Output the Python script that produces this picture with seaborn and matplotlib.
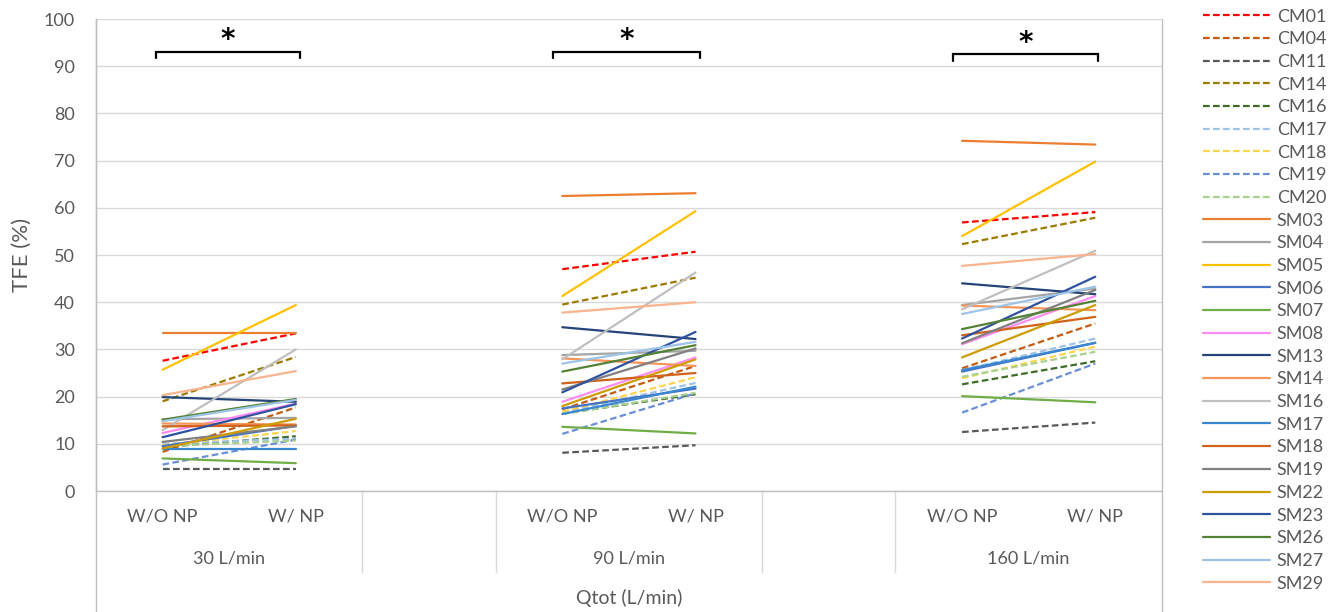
import pandas as pd
import matplotlib
matplotlib.use("Agg")
import matplotlib.pyplot as plt
from matplotlib.lines import Line2D
import seaborn as sns

# ------------------------------
# DATA (TFE %)
# ------------------------------
series = ["CM01", "CM04", "CM11", "CM14", "CM16", "CM17", "CM18", "CM19", "CM20",
          "SM03", "SM04", "SM05", "SM06", "SM07", "SM08", "SM13", "SM14", "SM16",
          "SM17", "SM18", "SM19", "SM22", "SM23", "SM26", "SM27", "SM29"]

flows = ["30 L/min", "90 L/min", "160 L/min"]
conditions = ["W/O NP", "W/ NP"]

tfe_30_wo = [27.6, 8.3, 4.6, 19.0, 9.3, 10.0, 9.7, 5.6, 9.5,
             33.4, 15.2, 25.7, 9.5, 6.9, 12.3, 19.9, 14.3, 12.9,
             8.8, 13.7, 10.4, 9.0, 11.4, 15.1, 14.8, 20.3]
tfe_30_w = [33.4, 17.7, 4.6, 28.4, 11.6, 11.1, 12.7, 10.9, 10.7,
            33.4, 15.5, 39.4, 13.8, 5.9, 18.5, 18.9, 14.1, 30.0,
            8.8, 13.9, 13.7, 15.3, 18.4, 19.5, 19.3, 25.4]
tfe_90_wo = [47.0, 17.3, 8.1, 39.5, 16.4, 16.6, 16.8, 12.1, 16.3,
             62.5, 28.8, 41.3, 17.5, 13.6, 18.9, 34.7, 28.1, 27.9,
             16.3, 22.8, 21.5, 18.0, 20.9, 25.3, 27.0, 37.8]
tfe_90_w = [50.7, 26.5, 9.7, 45.2, 20.5, 22.9, 24.1, 20.7, 20.8,
            63.1, 29.7, 59.3, 21.7, 12.2, 28.3, 32.2, 26.5, 46.3,
            22.1, 25.0, 30.2, 27.9, 33.7, 30.9, 31.6, 40.0]
tfe_160_wo = [56.9, 26.0, 12.5, 52.3, 22.6, 25.6, 23.9, 16.6, 24.2,
              74.2, 39.4, 54.0, 25.3, 20.1, 31.1, 44.0, 39.3, 38.5,
              25.6, 33.0, 31.3, 28.3, 32.3, 34.3, 37.5, 47.7]
tfe_160_w = [59.1, 35.5, 14.5, 57.9, 27.5, 32.3, 30.6, 27.0, 29.5,
             73.4, 42.9, 69.8, 31.4, 18.8, 41.3, 41.7, 38.3, 50.9,
             31.4, 36.9, 42.6, 39.4, 45.4, 40.3, 43.3, 50.2]

# ------------------------------
# STYLE
# ------------------------------
colors = {
    "CM01": "#FF0000", "CM04": "#C55A11", "CM11": "#595959", "CM14": "#9C7A00",
    "CM16": "#3F6B27", "CM17": "#9DC3E6", "CM18": "#FFD54F", "CM19": "#6A8FD8",
    "CM20": "#A9D18E", "SM03": "#ED7D31", "SM04": "#A5A5A5", "SM05": "#FFC000",
    "SM06": "#4472C4", "SM07": "#70AD47", "SM08": "#FF8CF5", "SM13": "#264478",
    "SM14": "#F4955A", "SM16": "#BFBFBF", "SM17": "#3A86D0", "SM18": "#D0621A",
    "SM19": "#808080", "SM22": "#CC9C00", "SM23": "#2F52A0", "SM26": "#548235",
    "SM27": "#9DC3E6", "SM29": "#F8B38F",
}
dashes = {s: ((3, 1.5) if s.startswith("CM") else "") for s in series}

# build long table; one line unit per series per flow
per_flow = [(tfe_30_wo, tfe_30_w), (tfe_90_wo, tfe_90_w), (tfe_160_wo, tfe_160_w)]
rows = []
for g, (wo, w) in enumerate(per_flow):
    for i, s in enumerate(series):
        rows.append({"series": s, "unit": f"{s}_{g}", "pos": 3 * g, "value": wo[i]})
        rows.append({"series": s, "unit": f"{s}_{g}", "pos": 3 * g + 1, "value": w[i]})
df = pd.DataFrame(rows)

sns.set_style("white")
plt.rcParams["font.family"] = ["Lato", "DejaVu Sans"]
txt = "#595959"
grid_c = "#D9D9D9"
axis_c = "#BFBFBF"

fig = plt.figure(figsize=(13.38, 6.12), dpi=100)
ax = fig.add_axes([0.0717, 0.1977, 0.7967, 0.7712])

sns.lineplot(data=df, x="pos", y="value", hue="series", style="series",
             units="unit", estimator=None, palette=colors, dashes=dashes,
             linewidth=1.6, legend=False, sort=False, ax=ax)

ax.set_xlim(-0.5, 7.5)
ax.set_ylim(0, 100)
ax.set_yticks(range(0, 101, 10))
ax.yaxis.grid(True, color=grid_c, linewidth=1)
ax.set_axisbelow(True)
ax.set_xticks([])
ax.set_xlabel("")
ax.set_ylabel("")
ax.tick_params(axis="y", length=0, pad=15, labelsize=13, labelcolor=txt)
for side in ["top", "right"]:
    ax.spines[side].set_visible(False)
for side in ["left", "bottom"]:
    ax.spines[side].set_color(axis_c)
    ax.spines[side].set_linewidth(1)

# ------------------------------
# MULTI-LEVEL CATEGORY AXIS
# ------------------------------
tr = ax.get_xaxis_transform()
for g, flow in enumerate(flows):
    for k, cond in enumerate(conditions):
        ax.text(3 * g + k, -0.055, cond, transform=tr, ha="center", va="center",
                fontsize=13, color=txt)
    ax.text(3 * g + 0.5, -0.142, flow, transform=tr, ha="center", va="center",
            fontsize=13, color=txt)
ax.text(3.5, -0.2267, "Qtot (L/min)", transform=tr, ha="center", va="center",
        fontsize=14, color=txt)

for xs in [1.5, 2.5, 4.5, 5.5]:
    ax.plot([xs, xs], [0, -0.1716], transform=tr, color=grid_c, lw=1, clip_on=False)
for xs in [-0.5, 7.5]:
    ax.plot([xs, xs], [1, -0.26], transform=tr, color=axis_c, lw=1, clip_on=False)

# ------------------------------
# SIGNIFICANCE BRACKETS
# ------------------------------
brackets = [(-0.05, 1.03, 93.1), (2.93, 4.03, 93.1), (5.93, 7.02, 92.5)]
for x0, x1, yb in brackets:
    ax.plot([x0, x0, x1, x1], [yb - 1.3, yb, yb, yb - 1.3], color="black",
            lw=1.6, clip_on=False, solid_joinstyle="miter")
    ax.text((x0 + x1) / 2, yb - 0.6, "*", ha="center", va="bottom",
            fontsize=20, fontweight="bold", color="black", family="DejaVu Sans")

fig.text(22 / 1338, 1 - 255 / 612, "TFE (%)", rotation=90, ha="center",
         va="center", fontsize=16, color=txt)

# ------------------------------
# LEGEND
# ------------------------------
handles = []
for s in series:
    ls = (0, (3, 1.5)) if s.startswith("CM") else "-"
    handles.append(Line2D([0], [0], color=colors[s], lw=1.6, linestyle=ls))
fig.legend(handles, series, loc="upper left", bbox_to_anchor=(0.899, 0.986),
           frameon=False, fontsize=13, labelcolor=txt, handlelength=3.7,
           handletextpad=0.4, labelspacing=0.37, borderpad=0, borderaxespad=0)

plt.savefig("out.png", dpi=100)
